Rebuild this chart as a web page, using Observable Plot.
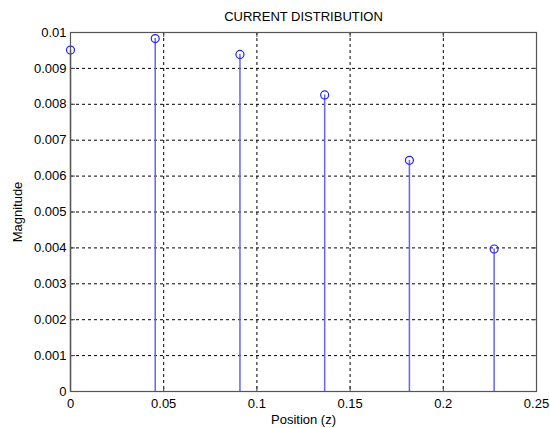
<!DOCTYPE html>
<html>
<head>
<meta charset="utf-8">
<script src="https://cdn.jsdelivr.net/npm/d3@7"></script>
<script src="https://cdn.jsdelivr.net/npm/@observablehq/plot@0.6"></script>
<style>
  html, body { margin: 0; padding: 0; background: #ffffff; }
  svg { display: block; }
</style>
</head>
<body>
<div id="chart"></div>
<script>
const positions = [0, 0.04545, 0.09091, 0.13636, 0.18182, 0.22727];
const magnitudes = [0.00951, 0.00983, 0.00939, 0.00826, 0.00644, 0.00397];
const xTicks = [0, 0.05, 0.1, 0.15, 0.2, 0.25];
const yTicks = [0, 0.001, 0.002, 0.003, 0.004, 0.005, 0.006, 0.007, 0.008, 0.009, 0.01];
const titleText = "CURRENT DISTRIBUTION";
const xLabel = "Position (z)";
const yLabel = "Magnitude";

const data = positions.map((p, i) => ({x: p, y: magnitudes[i]}));
const xMin = 0, xMax = 0.25, yMin = 0, yMax = 0.01;
const tickLenY = (yMax - yMin) * 5 / 359;   // ~5px inward ticks
const tickLenX = (xMax - xMin) * 5 / 466;

const chart = Plot.plot({
  width: 550,
  height: 428,
  marginTop: 32,
  marginLeft: 70,
  marginRight: 14,
  marginBottom: 37,
  style: {fontFamily: "'Liberation Sans', Arial, sans-serif", fontSize: "13px", color: "#000", background: "#fff"},
  x: {domain: [xMin, xMax]},
  y: {domain: [yMin, yMax]},
  marks: [
    Plot.gridX(xTicks, {stroke: "#000", strokeOpacity: 1, strokeDasharray: "3,3", strokeWidth: 1}),
    Plot.gridY(yTicks, {stroke: "#000", strokeOpacity: 1, strokeDasharray: "3,3", strokeWidth: 1}),
    Plot.ruleX(xTicks, {x: d => d, y1: yMin, y2: yMin + tickLenY, stroke: "#444"}),
    Plot.ruleX(xTicks, {x: d => d, y1: yMax - tickLenY, y2: yMax, stroke: "#444"}),
    Plot.ruleY(yTicks, {y: d => d, x1: xMin, x2: xMin + tickLenX, stroke: "#444"}),
    Plot.ruleY(yTicks, {y: d => d, x1: xMax - tickLenX, x2: xMax, stroke: "#444"}),
    Plot.ruleX(data, {x: "x", y1: 0, y2: "y", stroke: "#6464ff", strokeWidth: 1.5}),
    Plot.dot(data, {x: "x", y: "y", r: 4, stroke: "#2020ff", strokeWidth: 1.2, fill: "none"}),
    Plot.frame({stroke: "#555", strokeWidth: 1.2}),
    Plot.axisX(xTicks, {tickSize: 0, tickPadding: 7, fontSize: 13, tickFormat: d => String(d), label: xLabel, labelAnchor: "center", labelArrow: "none", labelOffset: 32}),
    Plot.axisY(yTicks, {tickSize: 0, tickPadding: 4, fontSize: 13, tickFormat: d => String(d), label: yLabel, labelAnchor: "center", labelArrow: "none", labelOffset: 58}),
    Plot.text([titleText], {frameAnchor: "top", lineAnchor: "middle", dy: -16, fontSize: 13, fill: "#000"})
  ]
});
document.getElementById("chart").appendChild(chart);
</script>
</body>
</html>
